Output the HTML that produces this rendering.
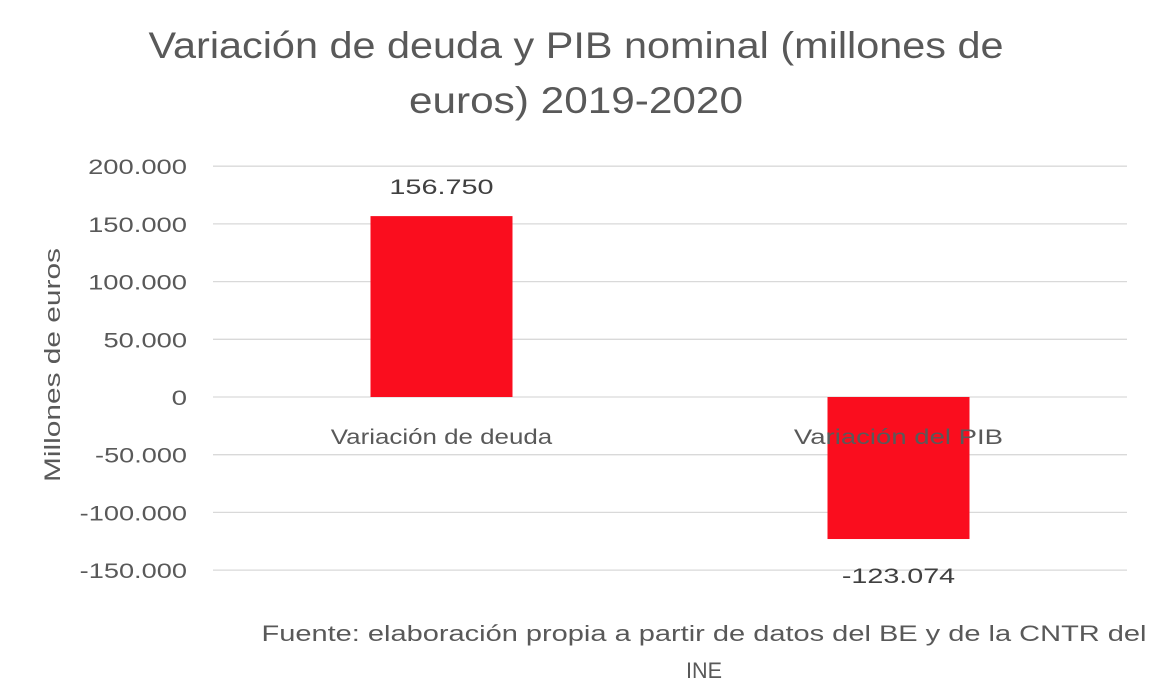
<!DOCTYPE html>
<html><head><meta charset="utf-8"><style>
body{margin:0;background:#fff;}
svg{display:block;font-family:"Liberation Sans",Arial,sans-serif;}
</style></head><body>
<svg id="chart" width="1154" height="692" viewBox="0 0 1154 692" xmlns="http://www.w3.org/2000/svg">
<rect width="1154" height="692" fill="#fff"/>
<text x="576" y="58" font-size="37" fill="#595959" text-anchor="middle" textLength="855" lengthAdjust="spacingAndGlyphs">Variación de deuda y PIB nominal (millones de</text>
<text x="576" y="113" font-size="37" fill="#595959" text-anchor="middle" textLength="334" lengthAdjust="spacingAndGlyphs">euros) 2019-2020</text>
<text transform="translate(60,365) rotate(-90)" font-size="22" fill="#595959" text-anchor="middle" textLength="234" lengthAdjust="spacingAndGlyphs">Millones de euros</text>
<g id="grid"></g><g id="bars"></g><g id="labels"></g>
<text x="704" y="641" font-size="22" fill="#595959" text-anchor="middle" textLength="885" lengthAdjust="spacingAndGlyphs">Fuente: elaboración propia a partir de datos del BE y de la CNTR del</text>
<text x="704" y="678" font-size="22" fill="#595959" text-anchor="middle" textLength="36" lengthAdjust="spacingAndGlyphs">INE</text>
</svg>
<script>
const categories = ["Variación de deuda", "Variación del PIB"];
const values = [156750, -123074];
const valueLabels = ["156.750", "-123.074"];
const ticks = [200000, 150000, 100000, 50000, 0, -50000, -100000, -150000];
const tickLabels = ["200.000", "150.000", "100.000", "50.000", "0", "-50.000", "-100.000", "-150.000"];

const NS = "http://www.w3.org/2000/svg";
const x0 = 213, x1 = 1127;
const y = v => 397 - v * (57.7 / 50000);
const band = (x1 - x0) / categories.length;
const cx = i => x0 + band * (i + 0.5);
const barW = 142;
function mk(tag, attrs, parent, text) {
  const e = document.createElementNS(NS, tag);
  for (const k in attrs) e.setAttribute(k, attrs[k]);
  if (text !== undefined) e.textContent = text;
  parent.appendChild(e);
  return e;
}
function w(s, digit, narrow) {
  let t = 0;
  for (const ch of s) t += (ch === '.' ? narrow : ch === '-' ? narrow * 1.3 : digit);
  return t;
}
const grid = document.getElementById('grid'), bars = document.getElementById('bars'), labels = document.getElementById('labels');
ticks.forEach((t, i) => {
  const l = mk('line', {x1: x0, x2: x1, y1: y(t), y2: y(t), stroke: '#d9d9d9', 'stroke-width': 1.3}, grid);
  
  
  const s = tickLabels[i];
  const tx = mk('text', {x: 187, y: y(t) + 8, 'font-size': 21, fill: '#595959', 'text-anchor': 'end', textLength: w(s, 15.4, 6.5), lengthAdjust: 'spacingAndGlyphs'}, grid, s);
  
  
});
values.forEach((v, i) => {
  const top = Math.min(y(v), y(0)), h = Math.abs(y(v) - y(0));
  const r = mk('rect', {x: cx(i) - barW / 2, y: top, width: barW, height: h, fill: '#fa0d1e'}, bars);
  
  
  const vy = v >= 0 ? y(v) - 22 : y(v) + 44;
  const s = valueLabels[i];
  const vl = mk('text', {x: cx(i), y: vy, 'font-size': 21, fill: '#404040', 'text-anchor': 'middle', textLength: w(s, 16.2, 7), lengthAdjust: 'spacingAndGlyphs'}, labels, s);
  
  
  const c = categories[i];
  const cl = mk('text', {x: cx(i), y: 444, 'font-size': 21, fill: '#595959', 'text-anchor': 'middle', textLength: c.length * 12.3, lengthAdjust: 'spacingAndGlyphs'}, labels, c);
  
  
});
</script>
</body></html>
